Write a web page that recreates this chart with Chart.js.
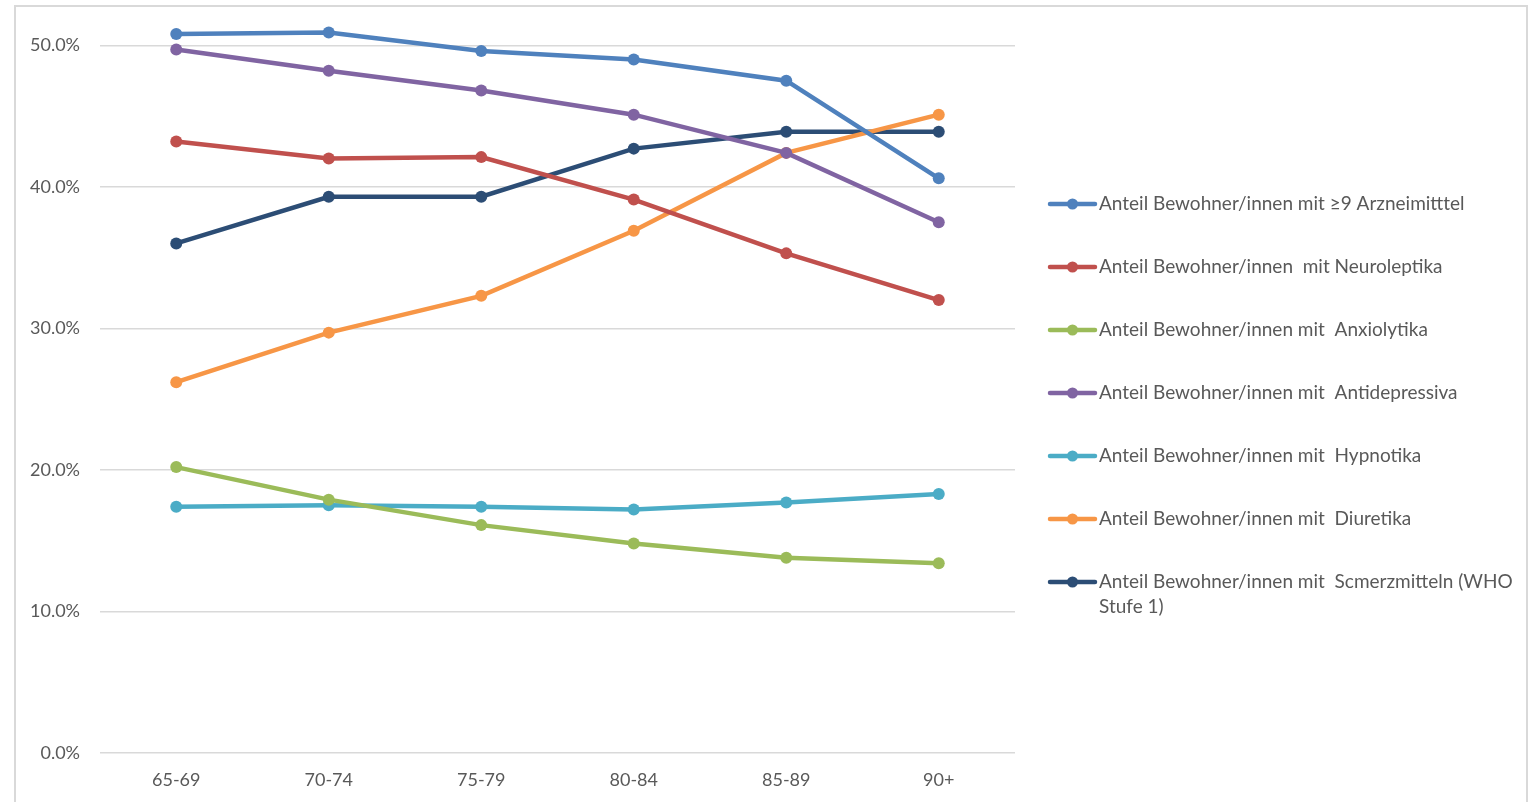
<!DOCTYPE html>
<html lang="de">
<head>
<meta charset="utf-8">
<title>Anteil Bewohner/innen nach Altersgruppe</title>
<script src="https://cdn.jsdelivr.net/npm/chart.js@4/dist/chart.umd.min.js"></script>
<style>
  html, body { margin: 0; padding: 0; background: #ffffff; overflow: hidden; }
  #wrap { position: relative; width: 1539px; height: 802px; }
  #frame {
    position: absolute; left: 14px; top: 5px; width: 1514px; height: 900px;
    border: 2px solid #d9d9d9; box-sizing: border-box; pointer-events: none;
  }
  canvas { position: absolute; left: 0; top: 0; }
</style>
</head>
<body>
<div id="wrap">
  <canvas id="chart" width="1539" height="802"></canvas>
  <div id="frame"></div>
</div>
<script>
// Altersgruppen
const categories = ['65-69', '70-74', '75-79', '80-84', '85-89', '90+'];

// Anteile in Prozent je Altersgruppe
const arzneimittel9  = [50.8, 50.9, 49.6, 49.0, 47.5, 40.6];
const neuroleptika   = [43.2, 42.0, 42.1, 39.1, 35.3, 32.0];
const anxiolytika    = [20.2, 17.9, 16.1, 14.8, 13.8, 13.4];
const antidepressiva = [49.7, 48.2, 46.8, 45.1, 42.4, 37.5];
const hypnotika      = [17.4, 17.5, 17.4, 17.2, 17.7, 18.3];
const diuretika      = [26.2, 29.7, 32.3, 36.9, 42.4, 45.1];
const schmerzmittel  = [36.0, 39.3, 39.3, 42.7, 43.9, 43.9];

// Serienbeschriftungen
const seriesLabels = [
  'Anteil Bewohner/innen mit \u22659 Arzneimitttel',
  'Anteil Bewohner/innen  mit Neuroleptika',
  'Anteil Bewohner/innen mit  Anxiolytika',
  'Anteil Bewohner/innen mit  Antidepressiva',
  'Anteil Bewohner/innen mit  Hypnotika',
  'Anteil Bewohner/innen mit  Diuretika',
  'Anteil Bewohner/innen mit  Scmerzmitteln (WHO Stufe 1)'
];

// Y-Achse: Beschriftung 0 % bis 50 % in 10er-Schritten, etwas Luft nach oben
const yMin = 0, yMax = 52, yStep = 10, yLastTick = 50;

const seriesValues = [arzneimittel9, neuroleptika, anxiolytika, antidepressiva, hypnotika, diuretika, schmerzmittel];
const seriesColors = ['#4f81bd', '#c0504d', '#9bbb59', '#8064a2', '#4bacc6', '#f79646', '#2c4d75'];

const FONT_FAMILY = 'Lato, "Open Sans", sans-serif';
const TEXT_COLOR = '#595959';

// Legende rechts neben dem Diagramm, mit Zeilenumbruch für lange Einträge
const sideLegend = {
  id: 'sideLegend',
  afterDraw(chart, args, opts) {
    const ctx = chart.ctx;
    ctx.save();
    ctx.font = opts.fontSize + 'px ' + FONT_FAMILY;
    ctx.textBaseline = 'middle';
    ctx.textAlign = 'left';
    chart.data.datasets.forEach((ds, i) => {
      const y = opts.top + i * opts.spacing;
      // Linie mit Markierung
      ctx.strokeStyle = ds.borderColor;
      ctx.lineWidth = opts.lineWidth;
      ctx.lineCap = 'round';
      ctx.beginPath();
      ctx.moveTo(opts.x, y);
      ctx.lineTo(opts.x + opts.symbolWidth, y);
      ctx.stroke();
      ctx.fillStyle = ds.borderColor;
      ctx.beginPath();
      ctx.arc(opts.x + opts.symbolWidth / 2, y, opts.pointRadius, 0, Math.PI * 2);
      ctx.fill();
      // Text, bei Bedarf umbrechen
      const words = ds.label.split(' ');
      const lines = [];
      let line = '';
      words.forEach((w, k) => {
        const test = k === 0 ? w : line + ' ' + w;
        if (line !== '' && ctx.measureText(test).width > opts.maxWidth) {
          lines.push(line);
          line = w;
        } else {
          line = test;
        }
      });
      lines.push(line);
      ctx.fillStyle = TEXT_COLOR;
      lines.forEach((l, k) => {
        ctx.fillText(l, opts.x + opts.symbolWidth + opts.gap, y + k * opts.lineHeight);
      });
    });
    ctx.restore();
  }
};

new Chart(document.getElementById('chart'), {
  type: 'line',
  data: {
    labels: categories,
    datasets: seriesValues.map((vals, i) => ({
      label: seriesLabels[i],
      data: vals,
      borderColor: seriesColors[i],
      backgroundColor: seriesColors[i],
      pointBackgroundColor: seriesColors[i],
      pointBorderColor: seriesColors[i],
      borderWidth: 4.5,
      pointRadius: 6,
      pointBorderWidth: 0,
      tension: 0,
      fill: false,
      clip: false
    }))
  },
  options: {
    responsive: false,
    animation: false,
    events: [],
    layout: { padding: { top: 17, right: 524, bottom: 0, left: 0 } },
    plugins: {
      legend: { display: false },
      tooltip: { enabled: false },
      sideLegend: {
        x: 1050, top: 204, spacing: 63, symbolWidth: 45, gap: 4,
        lineWidth: 4.5, pointRadius: 5.5, fontSize: 19, lineHeight: 25, maxWidth: 420
      }
    },
    scales: {
      x: {
        type: 'category',
        offset: true,
        grid: { display: false, drawTicks: false },
        border: { display: false },
        ticks: { color: TEXT_COLOR, font: { family: FONT_FAMILY, size: 18 }, padding: 16 },
        afterFit(scale) { scale.height = 49; }
      },
      y: {
        min: yMin, max: yMax,
        grid: { color: '#d9d9d9', lineWidth: 1.5, drawTicks: false },
        border: { display: false },
        ticks: {
          stepSize: yStep,
          color: TEXT_COLOR,
          font: { family: FONT_FAMILY, size: 18 },
          padding: 20,
          callback: v => v.toFixed(1) + '%'
        },
        afterBuildTicks(scale) {
          scale.ticks = scale.ticks.filter(t => t.value % yStep === 0 && t.value <= yLastTick);
        },
        afterFit(scale) {
          scale.width = 100;
          scale.paddingTop = 0;
          scale.paddingBottom = 0;
        }
      }
    }
  },
  plugins: [sideLegend]
});
</script>
</body>
</html>
